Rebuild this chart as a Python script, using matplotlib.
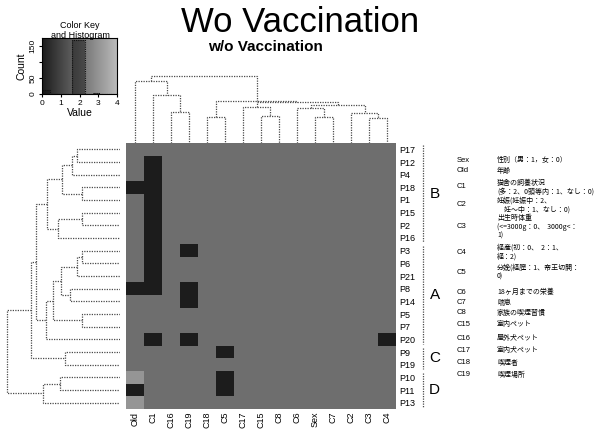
import numpy as np
import matplotlib
matplotlib.use('Agg')
import matplotlib.pyplot as plt
from matplotlib.colors import LinearSegmentedColormap

# figure is laid out in pixels of the 596x430 reference
W, H = 596, 430

row_names = ['P17', 'P12', 'P4', 'P18', 'P1', 'P15', 'P2', 'P16', 'P3', 'P6', 'P21',
             'P8', 'P14', 'P5', 'P7', 'P20', 'P9', 'P19', 'P10', 'P11', 'P13']
col_names = ['Old', 'C1', 'C16', 'C19', 'C18', 'C5', 'C17', 'C15', 'C8', 'C6',
             'Sex', 'C7', 'C2', 'C3', 'C4']

# cell values, rows top to bottom, columns left to right
values = [
    [2, 2, 2, 2, 2, 2, 2, 2, 2, 2, 2, 2, 2, 2, 2],
    [2, 0, 2, 2, 2, 2, 2, 2, 2, 2, 2, 2, 2, 2, 2],
    [2, 0, 2, 2, 2, 2, 2, 2, 2, 2, 2, 2, 2, 2, 2],
    [0, 0, 2, 2, 2, 2, 2, 2, 2, 2, 2, 2, 2, 2, 2],
    [2, 0, 2, 2, 2, 2, 2, 2, 2, 2, 2, 2, 2, 2, 2],
    [2, 0, 2, 2, 2, 2, 2, 2, 2, 2, 2, 2, 2, 2, 2],
    [2, 0, 2, 2, 2, 2, 2, 2, 2, 2, 2, 2, 2, 2, 2],
    [2, 0, 2, 2, 2, 2, 2, 2, 2, 2, 2, 2, 2, 2, 2],
    [2, 0, 2, 0, 2, 2, 2, 2, 2, 2, 2, 2, 2, 2, 2],
    [2, 0, 2, 2, 2, 2, 2, 2, 2, 2, 2, 2, 2, 2, 2],
    [2, 0, 2, 2, 2, 2, 2, 2, 2, 2, 2, 2, 2, 2, 2],
    [0, 0, 2, 0, 2, 2, 2, 2, 2, 2, 2, 2, 2, 2, 2],
    [2, 2, 2, 0, 2, 2, 2, 2, 2, 2, 2, 2, 2, 2, 2],
    [2, 2, 2, 2, 2, 2, 2, 2, 2, 2, 2, 2, 2, 2, 2],
    [2, 2, 2, 2, 2, 2, 2, 2, 2, 2, 2, 2, 2, 2, 2],
    [2, 0, 2, 0, 2, 2, 2, 2, 2, 2, 2, 2, 2, 2, 0],
    [2, 2, 2, 2, 2, 0, 2, 2, 2, 2, 2, 2, 2, 2, 2],
    [2, 2, 2, 2, 2, 2, 2, 2, 2, 2, 2, 2, 2, 2, 2],
    [3, 2, 2, 2, 2, 0, 2, 2, 2, 2, 2, 2, 2, 2, 2],
    [0, 2, 2, 2, 2, 0, 2, 2, 2, 2, 2, 2, 2, 2, 2],
    [3, 2, 2, 2, 2, 2, 2, 2, 2, 2, 2, 2, 2, 2, 2],
]

# (child a, child b, height); leaves are 0..n-1, merged nodes n, n+1, ...
row_merges = [(0, 1, 43), (21, 2, 48), (3, 4, 38), (22, 23, 58), (5, 6, 38),
              (25, 7, 62), (24, 26, 73), (8, 9, 38), (28, 10, 43), (11, 12, 50),
              (29, 30, 59), (13, 14, 38), (31, 32, 67), (33, 15, 74), (27, 34, 84),
              (16, 17, 55), (35, 36, 89), (18, 19, 60), (38, 20, 77), (37, 39, 113)]
col_merges = [(2, 3, 33), (1, 15, 50.7), (0, 16, 65.7), (4, 5, 28), (7, 8, 28.3),
              (6, 19, 38), (10, 11, 28), (9, 21, 37.3), (13, 14, 26.7), (12, 23, 31.3),
              (22, 24, 40), (20, 25, 43.3), (18, 26, 45), (17, 27, 71.3)]

groups = [('B', 0, 7), ('A', 8, 15), ('C', 16, 17), ('D', 18, 20)]

# histogram drawn in the colour key
key_edges = [0.0, 0.4, 0.8, 1.2, 1.6, 2.0, 2.3, 2.7, 3.1, 3.5, 4.0]
key_counts = [12, 0, 0, 0, 170, 170, 0, 3, 0, 0]

legend_codes = ['Sex', 'Old', 'C1', 'C2', 'C3', 'C4', 'C5', 'C6', 'C7', 'C8',
                'C15', 'C16', 'C17', 'C18', 'C19']
legend_texts = ['性別（男：1，女：0）',
                '年齢',
                '猫舎の飼養状況\n(多：2、0頭等内：1、なし：0)',
                '妊娠(妊娠中：2、\n　妊〜中：1、なし：0)',
                '出生時体重\n(<=3000g：0、  3000g<：\n1)',
                '経産(初：0、  2：1、\n経：2)',
                '分娩(経膣：1、帝王切開：\n0)',
                '18ヶ月までの栄養',
                '喘息',
                '家族の喫煙習慣',
                '室内ペット',
                '屋外犬ペット',
                '室内犬ペット',
                '喫煙者',
                '喫煙場所']
legend_y = [160, 171, 187, 205, 227, 252, 272, 292, 303, 313, 324, 338, 350, 363, 375]

plt.rcParams['font.family'] = ['Liberation Sans', 'Noto Sans CJK JP', 'DejaVu Sans']
cmap = LinearSegmentedColormap.from_list('gk', ['#1c1c1c', '#6e6e6e', '#bcbcbc'])
line_kw = dict(color='#4a4a4a', lw=0.9, linestyle=(0, (1, 1)))


def box(x0, y0, x1, y1):
    return [x0 / W, 1 - y1 / H, (x1 - x0) / W, (y1 - y0) / H]


def put(x, y, s, **kw):
    fig.text(x / W, 1 - y / H, s, **kw)


# draws a U-link for each merge, positions come from leaf order
def draw_dendro(ax, merges, n, side):
    pos = [i + 0.5 for i in range(n)]
    hgt = [0.0] * n
    for a, b, h in merges:
        p = [pos[a], pos[a], pos[b], pos[b]]
        q = [hgt[a], h, h, hgt[b]]
        if side == 'top':
            ax.plot(p, q, **line_kw)
        else:
            ax.plot(q, p, **line_kw)
        pos.append((pos[a] + pos[b]) / 2)
        hgt.append(h)
    ax.axis('off')


fig = plt.figure(figsize=(W / 100, H / 100), dpi=100)

# heatmap
ax = fig.add_axes(box(126, 143, 396, 409))
ax.imshow(np.array(values), cmap=cmap, vmin=0, vmax=4, aspect='auto',
          interpolation='nearest')
ax.set_xticks(range(len(col_names)))
ax.set_xticklabels(col_names, rotation=90, fontsize=6.5)
ax.set_yticks(range(len(row_names)))
ax.set_yticklabels(row_names, fontsize=6.5)
ax.yaxis.tick_right()
ax.tick_params(length=0, pad=2)
for s in ax.spines.values():
    s.set_visible(False)

# dendrograms
rax = fig.add_axes(box(5, 143, 120, 409))
draw_dendro(rax, row_merges, len(row_names), 'left')
rax.set_xlim(115, 0)
rax.set_ylim(len(row_names), 0)

cax = fig.add_axes(box(126, 75, 396, 143))
draw_dendro(cax, col_merges, len(col_names), 'top')
cax.set_xlim(0, len(col_names))
cax.set_ylim(0, 72)

# group brackets and letters
gax = fig.add_axes(box(416, 143, 450, 409))
for name, r0, r1 in groups:
    gax.plot([0.2, 0.2], [r0 + 0.15, r1 + 0.85], **line_kw)
    gax.text(0.55, (r0 + r1 + 1) / 2, name, fontsize=11, ha='center', va='center')
gax.set_xlim(0, 1)
gax.set_ylim(len(row_names), 0)
gax.axis('off')

# colour key
kax = fig.add_axes(box(42, 38, 117, 94))
kax.imshow(np.linspace(0, 4, 200)[None, :], cmap=cmap, vmin=0, vmax=4,
           extent=(0, 4, 0, 176), aspect='auto')
kax.stairs(key_counts, key_edges, fill=True, color='#101010', alpha=0.45)
kax.stairs(key_counts, key_edges, color='#101010', lw=0.8, linestyle=(0, (1, 1)))
kax.set_xlim(0, 4)
kax.set_ylim(0, 176)
kax.set_xticks([0, 1, 2, 3, 4])
kax.set_yticks([0, 50, 100, 150])
kax.set_yticklabels(['0', '50', '', '150'], rotation=90, va='center')
kax.tick_params(labelsize=6, length=2, pad=2)
kax.set_xlabel('Value', fontsize=7.5, labelpad=1)
kax.set_ylabel('Count', fontsize=7.5, labelpad=2)
put(80, 25, 'Color Key', fontsize=6.5, ha='center', va='center')
put(80, 35, 'and Histogram', fontsize=6.5, ha='center', va='center')

# titles
put(300, 22, 'Wo Vaccination', fontsize=25, ha='center', va='center')
put(265, 47, 'w/o Vaccination', fontsize=11, fontweight='bold', ha='center', va='center')

# variable legend
jp = ['Noto Sans CJK JP', 'DejaVu Sans']
for code, txt, y in zip(legend_codes, legend_texts, legend_y):
    put(457, y, code, fontsize=5.5, va='center')
    put(497, y, txt, fontsize=5, va='center', family=jp, linespacing=1.12)

fig.savefig('out.png', dpi=100)
